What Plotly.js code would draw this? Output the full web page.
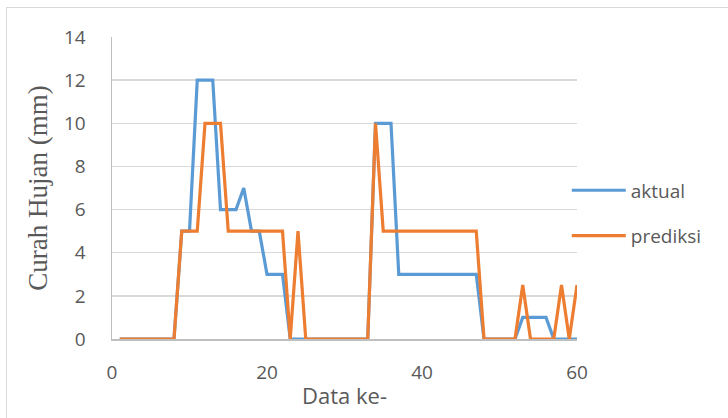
<!DOCTYPE html>
<html>
<head>
<meta charset="utf-8">
<script src="https://cdn.plot.ly/plotly-3.0.1.min.js"></script>
<style>
html,body{margin:0;padding:0;background:#fff;}
#wrap{position:relative;width:728px;height:418px;}
#frame{position:absolute;left:6px;top:7px;width:740px;height:430px;border:1px solid #d9d9d9;box-sizing:border-box;pointer-events:none;}
#chart{position:absolute;left:0;top:0;width:728px;height:418px;}
</style>
</head>
<body>
<div id="wrap"><div id="chart"></div><div id="frame"></div></div>
<script>
var dataKe = [1,2,3,4,5,6,7,8,9,10,11,12,13,14,15,16,17,18,19,20,21,22,23,24,25,26,27,28,29,30,31,32,33,34,35,36,37,38,39,40,41,42,43,44,45,46,47,48,49,50,51,52,53,54,55,56,57,58,59,60];
var aktual = [0,0,0,0,0,0,0,0,5,5,12,12,12,6,6,6,7,5,5,3,3,3,0,0,0,0,0,0,0,0,0,0,0,10,10,10,3,3,3,3,3,3,3,3,3,3,3,0,0,0,0,0,1,1,1,1,0,0,0,0];
var prediksi = [0,0,0,0,0,0,0,0,5,5,5,10,10,10,5,5,5,5,5,5,5,5,0,5,0,0,0,0,0,0,0,0,0,10,5,5,5,5,5,5,5,5,5,5,5,5,5,0,0,0,0,0,2.5,0,0,0,0,2.5,0,2.5];
var xTicks = [0,20,40,60];
var seriesNames = ['aktual','prediksi'];
var seriesColors = ['#5b9bd5','#ed7d31'];
var legendIds = ['legend','legend2'];

var traces = [aktual, prediksi].map(function(ys, i){
  return {x: dataKe, y: ys, type:'scatter', mode:'lines', name: seriesNames[i],
    legend: legendIds[i], line:{color: seriesColors[i], width:3.2}};
});

var legendCommon = {x:0.978, xanchor:'left', yanchor:'top', itemwidth:54,
  font:{size:19, color:'#595959'}, bgcolor:'rgba(0,0,0,0)'};

var layout = {
  width:728, height:418,
  margin:{l:112, r:151, t:37, b:79},
  paper_bgcolor:'#fff', plot_bgcolor:'#fff',
  font:{family:'Open Sans, sans-serif', color:'#595959', size:19},
  showlegend:true,
  legend: Object.assign({}, legendCommon, {y:0.555}),
  legend2: Object.assign({}, legendCommon, {y:0.405}),
  xaxis:{range:[0,60], tickvals:xTicks, ticktext:xTicks.map(String), showgrid:false, zeroline:false,
    showline:true, linecolor:'#bfbfbf', linewidth:1.5, ticks:'', ticklabelstandoff:16,
    tickfont:{size:19, color:'#595959'},
    title:{text:'Data ke-', font:{size:22, color:'#595959'}, standoff:4}},
  yaxis:{range:[0,14], dtick:2, showgrid:true, gridcolor:'#d9d9d9', gridwidth:1.5, zeroline:false,
    showline:true, linecolor:'#bfbfbf', linewidth:1.5, ticks:'', ticklabelstandoff:21,
    tickfont:{size:19, color:'#595959'},
    title:{text:'Curah Hujan (mm)', font:{family:'Liberation Serif, Times New Roman, serif', size:27, color:'#595959'}, standoff:8}}
};
Plotly.newPlot('chart', traces, layout, {displayModeBar:false, staticPlot:true});
</script>
</body>
</html>
